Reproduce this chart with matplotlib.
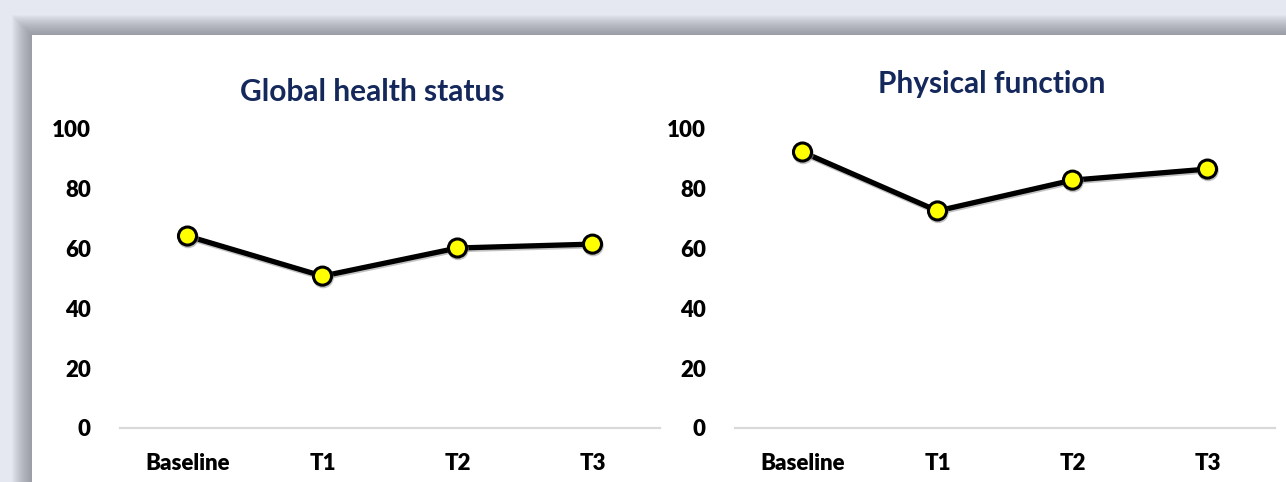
import matplotlib.pyplot as plt
import matplotlib.patheffects as pe
from matplotlib.patches import Rectangle

categories = ["Baseline", "T1", "T2", "T3"]
global_health = [64.2, 50.8, 60.2, 61.5]
physical_function = [92.3, 72.6, 82.9, 86.6]
yticks = [0, 20, 40, 60, 80, 100]

title_color = "#14285c"
W, H = 1286, 482

plt.rcParams["font.family"] = ["Lato", "DejaVu Sans"]

fig = plt.figure(figsize=(W / 100, H / 100), dpi=100)
fig.patch.set_facecolor("#e5e8f0")

# soft drop shadow behind the white panel
px, py = 32 / W, 0
pw, ph = 1 - px, (H - 35) / H
for i in range(20, 0, -1):
    dx, dy = i / W, i / H
    fig.patches.append(Rectangle((px - dx, py), pw + dx, ph + dy,
                                 transform=fig.transFigure, facecolor="#60646e",
                                 alpha=0.035, edgecolor="none", zorder=0))
fig.patches.append(Rectangle((px, py), pw, ph, transform=fig.transFigure,
                             facecolor="white", edgecolor="none", zorder=1))


def draw_panel(rect, values, title, tx, ty):
    ax = fig.add_axes(rect, zorder=5)
    ax.set_facecolor("none")
    x = range(len(categories))
    ax.plot(x, values, color="black", lw=3.8, solid_capstyle="round",
            marker="o", ms=13, mfc="#ffff00", mec="black", mew=2.2,
            path_effects=[pe.SimpleLineShadow(offset=(0.5, -1.2), shadow_color="#9a9a9a", alpha=0.6),
                          pe.Normal()], zorder=3)
    ax.set_xlim(-0.5, len(categories) - 0.5)
    ax.set_ylim(0, 100)
    ax.set_yticks(yticks)
    ax.set_xticks(list(x))
    ax.set_xticklabels(categories)
    ax.tick_params(length=0, labelsize=16, pad=21)
    ax.tick_params(axis="x", pad=18)
    for lab in ax.get_xticklabels() + ax.get_yticklabels():
        lab.set_fontweight("heavy")
    for s in ["top", "right", "left"]:
        ax.spines[s].set_visible(False)
    ax.spines["bottom"].set_color("#d9d9d9")
    ax.spines["bottom"].set_linewidth(1.6)
    fig.text(tx / W, 1 - ty / H, title, ha="center", va="center",
             fontsize=21.5, fontweight="bold", color=title_color, zorder=6)
    return ax


bottom = (H - 428) / H
height = (428 - 129) / H
draw_panel([120 / W, bottom, 540 / W, height], global_health, "Global health status", 372, 92)
draw_panel([735 / W, bottom, 540 / W, height], physical_function, "Physical function", 992, 84)

fig.savefig("out.png", dpi=100, facecolor=fig.get_facecolor())
